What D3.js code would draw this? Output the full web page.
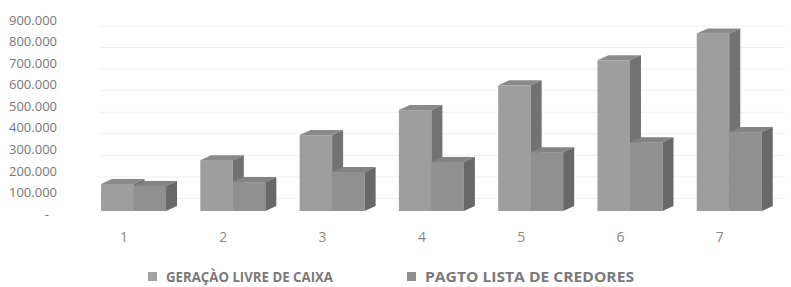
<!DOCTYPE html>
<html>
<head>
<meta charset="utf-8">
<script src="https://cdn.jsdelivr.net/npm/d3@7"></script>
<style>
  body { margin: 0; background: #fff; }
  svg { display: block; font-family: "Open Sans", "Liberation Sans", sans-serif; }
</style>
</head>
<body>
<div id="chart"></div>
<script>
// data
var categories = ["1", "2", "3", "4", "5", "6", "7"];
var geracaoLivre = [125000, 236000, 352000, 468000, 583000, 699000, 824000];
var pagtoLista = [116000, 134000, 181000, 227000, 273000, 319000, 366000];
var yTicks = [0, 100000, 200000, 300000, 400000, 500000, 600000, 700000, 800000, 900000];
var seriesNames = ["GERAÇÀO LIVRE DE CAIXA", "PAGTO LISTA DE CREDORES"];

var width = 791, height = 287;

var svg = d3.select("#chart").append("svg")
  .attr("width", width)
  .attr("height", height);

// scales
var x = d3.scaleBand()
  .domain(categories)
  .range([74.4, 769.4]);

var y = d3.scaleLinear()
  .domain([0, 900000])
  .range([214, 20]);

// 3d look
var depthX = 11, depthY = -5;   // depth of a bar
var frontShift = -3;            // front face sits a bit above the label baseline
var barW = 32.5;
var gridShift = 6;

// faint gridlines on the back wall
svg.append("g")
  .selectAll("line")
  .data(yTicks.slice(1))
  .join("line")
  .attr("x1", 100)
  .attr("x2", 785)
  .attr("y1", function(d) { return y(d) + gridShift; })
  .attr("y2", function(d) { return y(d) + gridShift; })
  .attr("stroke", "#f0f0f0")
  .attr("stroke-width", 1);

// y axis labels
var yAxis = svg.append("g")
  .attr("transform", "translate(57,0)")
  .call(d3.axisLeft(y)
    .tickValues(yTicks)
    .tickSize(0)
    .tickPadding(0)
    .tickFormat(function(d) { return d === 0 ? "-" : d3.format(",")(d).replace(/,/g, "."); }));
yAxis.select(".domain").remove();
yAxis.selectAll("text")
  .attr("fill", "#777")
  .style("font-size", "13px")
  .style("font-family", "'Open Sans', sans-serif");
yAxis.selectAll(".tick")
  .filter(function(d) { return d === 0; })
  .select("text")
  .attr("dx", "-8");

// category labels
svg.append("g")
  .selectAll("text")
  .data(categories)
  .join("text")
  .attr("x", function(d) { return x(d) + x.bandwidth() / 2; })
  .attr("y", 242)
  .attr("text-anchor", "middle")
  .attr("fill", "#888")
  .style("font-size", "14px")
  .text(function(d) { return d; });

var styles = [
  { front: "#9e9e9e", top: "#8a8a8a", side: "#727272", offset: -23 },
  { front: "#909090", top: "#838383", side: "#686868", offset: 9.5 }
];

function drawBox(g, x0, yTop, yBase, st) {
  var x1 = x0 + barW;
  // front
  g.append("rect")
    .attr("x", x0)
    .attr("y", yTop)
    .attr("width", barW)
    .attr("height", yBase - yTop)
    .attr("fill", st.front);
  // top
  g.append("path")
    .attr("d", "M" + x0 + "," + yTop + "L" + (x0 + depthX) + "," + (yTop + depthY) +
      "L" + (x1 + depthX) + "," + (yTop + depthY) + "L" + x1 + "," + yTop + "Z")
    .attr("fill", st.top);
  // right side
  g.append("path")
    .attr("d", "M" + x1 + "," + yTop + "L" + (x1 + depthX) + "," + (yTop + depthY) +
      "L" + (x1 + depthX) + "," + (yBase + depthY) + "L" + x1 + "," + yBase + "Z")
    .attr("fill", st.side);
}

var bars = svg.append("g");
categories.forEach(function(c, i) {
  var center = x(c) + x.bandwidth() / 2;
  var base = y(0) + frontShift;
  [geracaoLivre[i], pagtoLista[i]].forEach(function(v, s) {
    var st = styles[s];
    drawBox(bars.append("g"), center + st.offset, y(v) + frontShift, base, st);
  });
});

// legend
var legendX = [148, 407];
var legendColors = ["#a3a3a3", "#8f8f8f"];
var legendLen = [167, 209];
var legend = svg.append("g");
seriesNames.forEach(function(name, i) {
  legend.append("rect")
    .attr("x", legendX[i])
    .attr("y", 272)
    .attr("width", 9)
    .attr("height", 9)
    .attr("fill", legendColors[i]);
  legend.append("text")
    .attr("x", legendX[i] + 18)
    .attr("y", 282)
    .attr("fill", "#7a7a7a")
    .style("font-size", "15px")
    .style("font-weight", "bold")
    .attr("textLength", legendLen[i])
    .attr("lengthAdjust", "spacingAndGlyphs")
    .text(name);
});
</script>
</body>
</html>
